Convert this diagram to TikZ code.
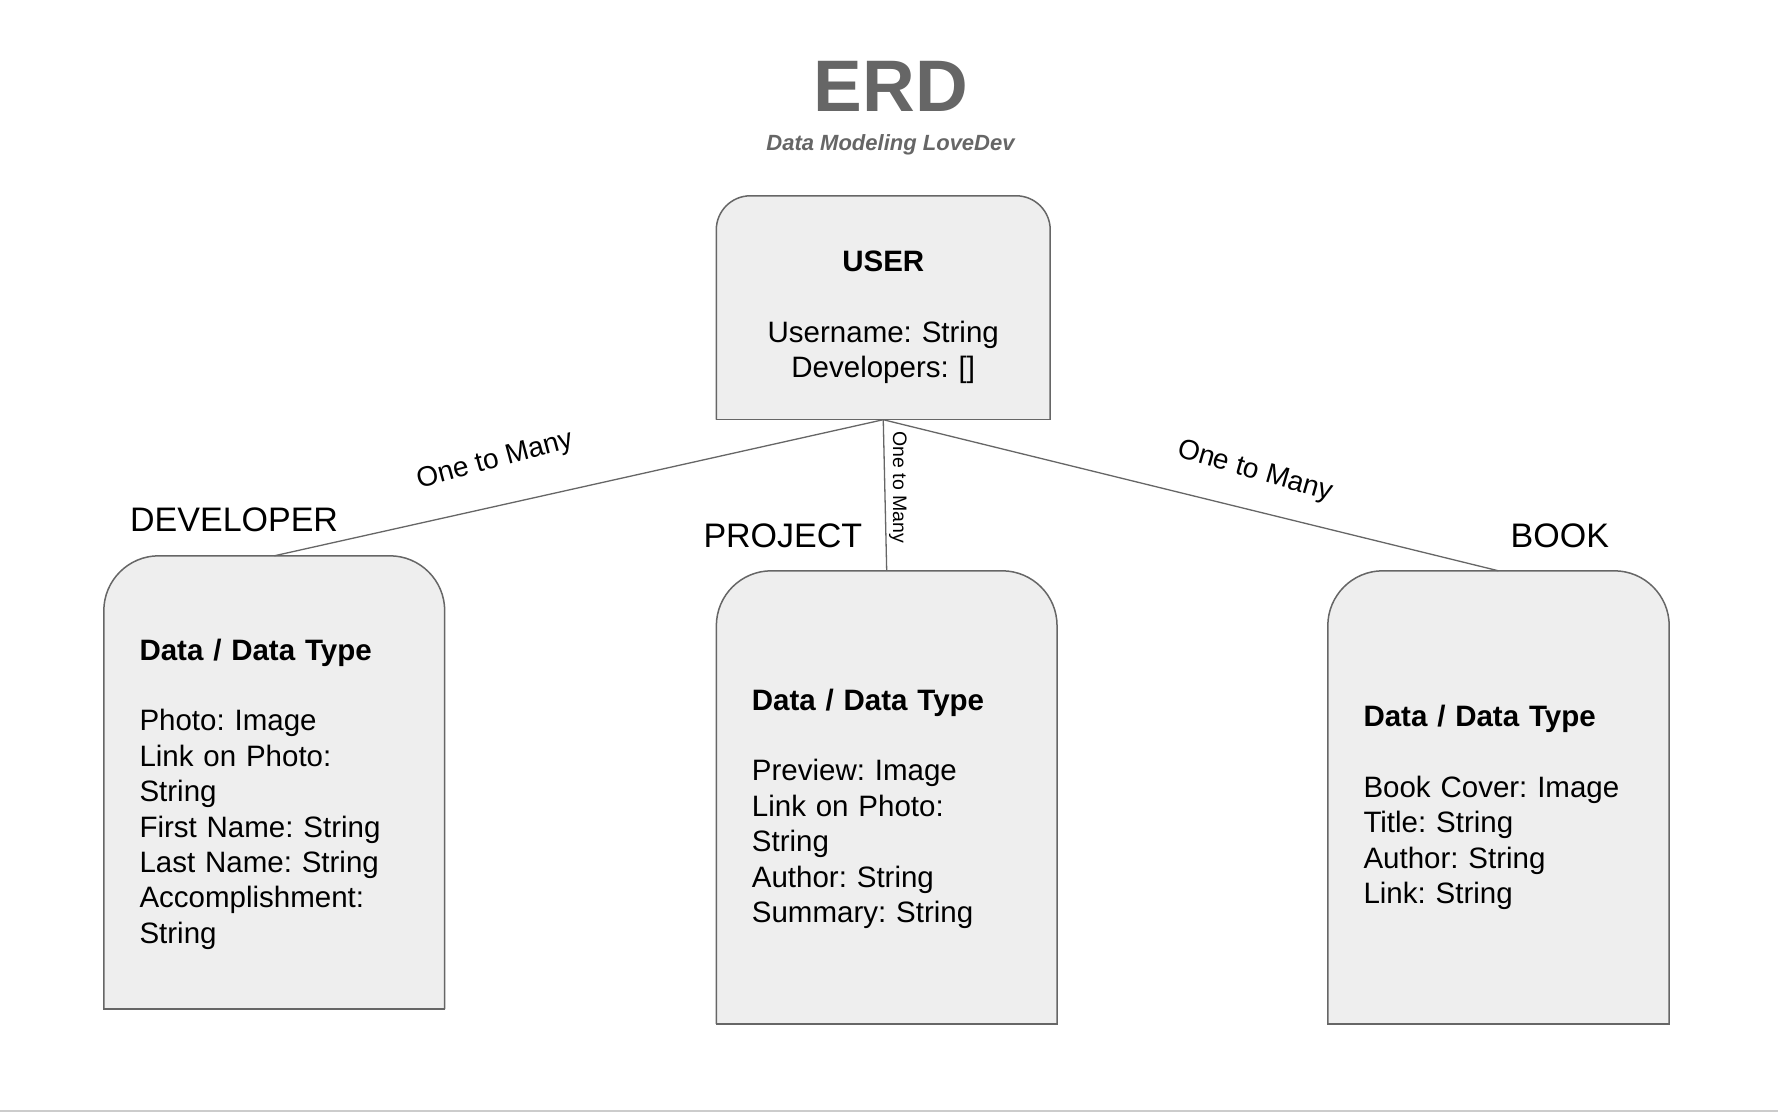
\documentclass[tikz,border=0pt]{standalone}
\usepackage{fontspec}
\setmainfont{Liberation Sans}
\frenchspacing
\definecolor{edgegray}{HTML}{666666}
\definecolor{boxfill}{HTML}{EEEEEE}
\definecolor{titlegray}{HTML}{666666}
\definecolor{rulegray}{HTML}{CCCCCC}
\tikzset{
  entity/.style={rectangle, draw=none, inner sep=0pt},
  boxline/.style={draw=edgegray, line width=1.5pt, fill=boxfill},
  boxbottom/.style={draw=edgegray, line width=1.5pt, line cap=rect},
  conn/.style={draw=edgegray, line width=1.3pt},
  boxtext/.style={inner sep=0pt, anchor=base west, text width=300pt, align=left,
     font=\fontsize{29.5}{35.4}\selectfont},
  entlabel/.style={inner sep=0pt, anchor=base west, font=\fontsize{34}{40}\selectfont},
  rellabel/.style={inner sep=0pt, font=\fontsize{28}{32}\selectfont},
}
\begin{document}
\begin{tikzpicture}[x=1pt,y=1pt]
\useasboundingbox (0,0) rectangle (1778,-1112);
\fill[white] (0,0) rectangle (1778,-1112);
\fill[rulegray] (0,-1109.5) rectangle (1778,-1112);

% title
\node[inner sep=0pt, anchor=base, text=titlegray, font=\bfseries\fontsize{73}{80}\selectfont] (title) at (891,-111.7) {ERD};
\node[inner sep=0pt, anchor=base, text=titlegray, font=\bfseries\itshape\fontsize{22}{26}\selectfont] (subtitle) at (890.5,-150) {Data Modeling LoveDev};

% entity frames
\node[entity, minimum width=333.5pt, minimum height=223.5pt] (user) at (883.25,-307.75) {};
\node[entity, minimum width=340.5pt, minimum height=453pt] (dev) at (274.25,-782.5) {};
\node[entity, minimum width=340.3pt, minimum height=452.7pt] (proj) at (886.7,-797.35) {};
\node[entity, minimum width=341pt, minimum height=452.7pt] (book) at (1498.5,-797.35) {};

\path[boxline, rounded corners=34pt] (user.south west) -- (user.north west) -- (user.north east) -- (user.south east);
\draw[boxbottom] (user.south west) -- (user.south east);
\path[boxline, rounded corners=55pt] (dev.south west) -- (dev.north west) -- (dev.north east) -- (dev.south east);
\draw[boxbottom] (dev.south west) -- (dev.south east);
\path[boxline, rounded corners=55pt] (proj.south west) -- (proj.north west) -- (proj.north east) -- (proj.south east);
\draw[boxbottom] (proj.south west) -- (proj.south east);
\path[boxline, rounded corners=55pt] (book.south west) -- (book.north west) -- (book.north east) -- (book.south east);
\draw[boxbottom] (book.south west) -- (book.south east);

% connectors
\draw[conn] (user.south) -- (dev.north);
\draw[conn] (user.south) -- (proj.north);
\draw[conn] (user.south) -- (book.north);

% box contents
\node[inner sep=0pt, anchor=base, text width=330pt, align=center, font=\fontsize{29.5}{35.4}\selectfont] (usertext) at (883.25,-271.7)
  {\textbf{USER}\\[35.4pt]Username: String\\Developers: []};
\node[boxtext] (devtext) at (139.3,-660)
  {\textbf{Data / Data Type}\\[35.4pt]Photo: Image\\Link on Photo:\\String\\First Name: String\\Last Name: String\\Accomplishment:\\String};
\node[boxtext] (projtext) at (751.7,-710)
  {\textbf{Data / Data Type}\\[35.4pt]Preview: Image\\Link on Photo:\\String\\Author: String\\Summary: String};
\node[boxtext] (booktext) at (1363.3,-726.7)
  {\textbf{Data / Data Type}\\[35.4pt]Book Cover: Image\\Title: String\\Author: String\\Link: String};

% entity labels
\node[entlabel] (devlabel) at (130,-531.7) {DEVELOPER};
\node[entlabel] (projlabel) at (703.3,-547) {PROJECT};
\node[entlabel] (booklabel) at (1510.5,-547) {BOOK};

% relation labels
\node[rellabel, rotate=15] (rel1) at (495,-461) {One to Many};
\node[rellabel, rotate=-16] (rel3) at (1255,-472) {One to Many};
\node[inner sep=0pt, rotate=-90, font=\fontsize{19.5}{22}\selectfont] (rel2) at (898,-487.5) {One to Many};
\end{tikzpicture}
\end{document}
